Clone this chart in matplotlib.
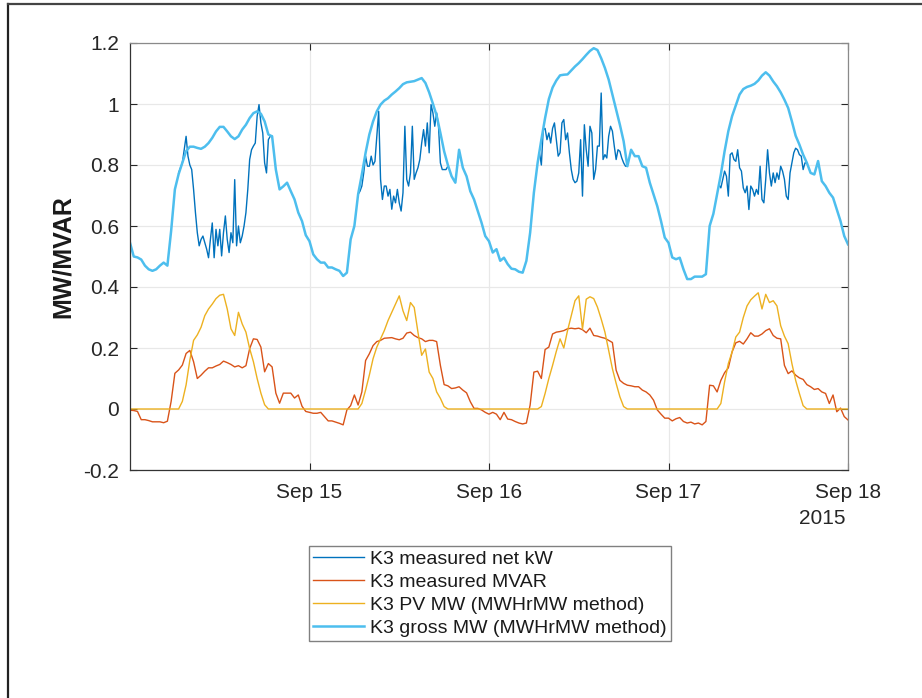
import numpy as np
import pandas as pd
import matplotlib
matplotlib.use("Agg")
import matplotlib.pyplot as plt
import matplotlib.dates as mdates
from matplotlib.lines import Line2D

plt.rcParams['font.family'] = ['Liberation Sans', 'DejaVu Sans']

# ---------------- data ----------------
series_start = "2015-09-14 00:00"
series_step = "30min"

gross_mw = [
    0.545, 0.50, 0.497, 0.49, 0.47, 0.458, 0.453, 0.458, 0.47, 0.48, 0.47, 0.584,
    0.72, 0.77, 0.807, 0.845, 0.86, 0.86, 0.856, 0.853, 0.86, 0.872, 0.889, 0.91,
    0.925, 0.925, 0.91, 0.894, 0.885, 0.894, 0.916, 0.932, 0.954, 0.97, 0.976, 0.968,
    0.943, 0.90, 0.894, 0.785, 0.72, 0.73, 0.742, 0.714, 0.687, 0.644, 0.616, 0.57,
    0.55, 0.507, 0.491, 0.48, 0.48, 0.464, 0.464, 0.458, 0.453, 0.436, 0.447, 0.556,
    0.60, 0.704, 0.769, 0.84, 0.90, 0.943, 0.976, 0.998, 1.011, 1.019, 1.031, 1.041,
    1.052, 1.065, 1.071, 1.073, 1.075, 1.08, 1.085, 1.069, 1.038, 1.001, 0.962, 0.905,
    0.845, 0.80, 0.763, 0.742, 0.85, 0.791, 0.763, 0.714, 0.687, 0.649, 0.611, 0.567,
    0.55, 0.513, 0.524, 0.486, 0.496, 0.475, 0.46, 0.458, 0.45, 0.447, 0.486, 0.578,
    0.709, 0.807, 0.883, 0.954, 1.016, 1.054, 1.077, 1.094, 1.096, 1.097, 1.11, 1.123,
    1.134, 1.147, 1.161, 1.174, 1.183, 1.177, 1.15, 1.118, 1.08, 1.031, 0.981, 0.932,
    0.878, 0.796, 0.85, 0.829, 0.829, 0.796, 0.791, 0.742, 0.704, 0.665, 0.616, 0.562,
    0.545, 0.497, 0.491, 0.496, 0.458, 0.426, 0.426, 0.434, 0.434, 0.434, 0.442, 0.60,
    0.64, 0.704, 0.769, 0.845, 0.911, 0.96, 0.995, 1.031, 1.049, 1.056, 1.06, 1.066,
    1.077, 1.093, 1.104, 1.093, 1.074, 1.058, 1.038, 1.014, 0.987, 0.943, 0.896, 0.867,
    0.834, 0.807, 0.774, 0.769, 0.813, 0.747, 0.731, 0.709, 0.693, 0.655, 0.616, 0.567,
    0.54,
]

pv_mw = [
    0, 0, 0, 0, 0, 0, 0, 0, 0, 0, 0, 0,
    0, 0, 0.025, 0.079, 0.16, 0.225, 0.243, 0.268, 0.306, 0.328, 0.344, 0.362,
    0.373, 0.376, 0.328, 0.263, 0.241, 0.317, 0.279, 0.252, 0.198, 0.155, 0.10, 0.052,
    0.014, 0, 0, 0, 0, 0, 0, 0, 0, 0, 0, 0,
    0, 0, 0, 0, 0, 0, 0, 0, 0, 0, 0, 0,
    0, 0, 0.018, 0.062, 0.111, 0.165, 0.203, 0.23, 0.257, 0.29, 0.317, 0.344,
    0.371, 0.322, 0.29, 0.349, 0.333, 0.252, 0.176, 0.197, 0.121, 0.10, 0.056, 0.035,
    0.008, 0, 0, 0, 0, 0, 0, 0, 0, 0, 0, 0,
    0, 0, 0, 0, 0, 0, 0, 0, 0, 0, 0, 0,
    0, 0, 0.008, 0.051, 0.10, 0.143, 0.189, 0.23, 0.20, 0.257, 0.306, 0.355,
    0.371, 0.262, 0.36, 0.368, 0.362, 0.334, 0.295, 0.252, 0.192, 0.132, 0.084, 0.04,
    0.008, 0, 0, 0, 0, 0, 0, 0, 0, 0, 0, 0,
    0, 0, 0, 0, 0, 0, 0, 0, 0, 0, 0, 0,
    0, 0, 0.018, 0.089, 0.149, 0.187, 0.236, 0.252, 0.30, 0.338, 0.358, 0.37,
    0.381, 0.328, 0.376, 0.349, 0.355, 0.338, 0.273, 0.239, 0.214, 0.149, 0.094, 0.051,
    0.011, 0, 0, 0, 0, 0, 0, 0, 0, 0, 0, 0,
    0,
]

mvar = [
    -0.004, -0.005, -0.008, -0.035, -0.035, -0.038, -0.042, -0.042, -0.042, -0.045, -0.04, 0.025,
    0.117, 0.128, 0.144, 0.182, 0.192, 0.155, 0.10, 0.111, 0.124, 0.135, 0.135, 0.141,
    0.146, 0.157, 0.152, 0.146, 0.138, 0.142, 0.135, 0.142, 0.198, 0.23, 0.228, 0.203,
    0.122, 0.149, 0.138, 0.052, 0.019, 0.052, 0.052, 0.052, 0.036, 0.046, 0.009, -0.008,
    -0.011, -0.014, -0.014, -0.011, -0.025, -0.039, -0.039, -0.043, -0.047, -0.052, -0.003, 0.011,
    0.046, 0.013, 0.056, 0.159, 0.181, 0.208, 0.221, 0.225, 0.232, 0.233, 0.234, 0.23,
    0.227, 0.232, 0.249, 0.252, 0.241, 0.234, 0.23, 0.221, 0.225, 0.225, 0.221, 0.143,
    0.08, 0.076, 0.067, 0.069, 0.073, 0.062, 0.053, 0.024, 0.002, 0.002, -0.003, -0.011,
    -0.017, -0.011, -0.017, -0.035, -0.011, -0.033, -0.035, -0.041, -0.046, -0.049, -0.046, 0.013,
    0.121, 0.124, 0.10, 0.195, 0.203, 0.246, 0.252, 0.254, 0.257, 0.263, 0.265, 0.263,
    0.265, 0.26, 0.25, 0.265, 0.241, 0.239, 0.235, 0.232, 0.225, 0.218, 0.127, 0.094,
    0.084, 0.078, 0.076, 0.073, 0.073, 0.062, 0.056, 0.046, 0.029, -0.003, -0.017, -0.03,
    -0.03, -0.039, -0.032, -0.028, -0.041, -0.046, -0.043, -0.049, -0.046, -0.052, -0.041, 0.078,
    0.076, 0.056, 0.094, 0.119, 0.135, 0.187, 0.217, 0.222, 0.213, 0.23, 0.25, 0.239,
    0.239, 0.246, 0.257, 0.263, 0.241, 0.232, 0.23, 0.143, 0.116, 0.125, 0.111, 0.102,
    0.097, 0.08, 0.073, 0.064, 0.067, 0.056, 0.051, 0.018, 0.046, -0.009, 0.003, -0.025,
    -0.036,
]

# measured net kW (daytime segments, 15-min samples)
net_step = "15min"
net_starts = ["2015-09-14 06:30", "2015-09-15 06:30", "2015-09-16 06:45", "2015-09-17 06:45"]
net_day1 = [
    0.774, 0.79, 0.807, 0.85, 0.894, 0.829, 0.80, 0.785, 0.72, 0.644, 0.578, 0.535,
    0.556, 0.567, 0.545, 0.524, 0.496, 0.556, 0.61, 0.496, 0.589, 0.535, 0.589, 0.502,
    0.578, 0.633, 0.556, 0.513, 0.578, 0.545, 0.752, 0.535, 0.60, 0.545, 0.567, 0.60,
    0.644, 0.72, 0.818, 0.85, 0.862, 0.872, 0.96, 0.998, 0.938, 0.905, 0.807, 0.774,
    0.883, 0.894, 0.894,
]
net_day2 = [
    0.704, 0.714, 0.731, 0.774, 0.829, 0.796, 0.796, 0.829, 0.80, 0.812, 0.894, 0.976,
    0.753, 0.687, 0.731, 0.731, 0.698, 0.72, 0.655, 0.698, 0.676, 0.72, 0.676, 0.649,
    0.709, 0.927, 0.753, 0.731, 0.774, 0.927, 0.753, 0.774, 0.791, 0.818, 0.872, 0.916,
    0.862, 0.938, 0.84, 0.998, 0.971, 0.927, 0.971, 0.927, 0.807, 0.785, 0.785, 0.785,
    0.796,
]
net_day3 = [
    0.84, 0.80, 0.916, 0.92, 0.883, 0.905, 0.872, 0.92, 0.938, 0.883, 0.829, 0.84,
    0.938, 0.949, 0.883, 0.905, 0.84, 0.785, 0.753, 0.742, 0.747, 0.774, 0.883, 0.698,
    0.932, 0.85, 0.796, 0.927, 0.905, 0.753, 0.785, 0.862, 0.862, 1.036, 0.818, 0.834,
    0.823, 0.894, 0.927, 0.911, 0.862, 0.818, 0.85, 0.845, 0.823, 0.807, 0.796, 0.796,
]
net_day4 = [
    0.735, 0.725, 0.753, 0.78, 0.763, 0.698, 0.834, 0.84, 0.818, 0.812, 0.85, 0.791,
    0.78, 0.725, 0.709, 0.731, 0.654, 0.731, 0.72, 0.698, 0.72, 0.704, 0.796, 0.687,
    0.676, 0.753, 0.85, 0.774, 0.731, 0.774, 0.742, 0.774, 0.753, 0.796, 0.78, 0.753,
    0.698, 0.687, 0.774, 0.807, 0.84, 0.855, 0.85, 0.834, 0.829, 0.785, 0.807, 0.807,
]

series_labels = [
    "K3 measured net kW",
    "K3 measured MVAR",
    "K3 PV MW (MWHrMW method)",
    "K3 gross MW (MWHrMW method)",
]
xtick_dates = ["2015-09-15", "2015-09-16", "2015-09-17", "2015-09-18"]
xtick_labels = ["Sep 15", "Sep 16", "Sep 17", "Sep 18"]
year_label = "2015"
ytick_values = [-0.2, 0, 0.2, 0.4, 0.6, 0.8, 1.0, 1.2]
ytick_labels = ["-0.2", "0", "0.2", "0.4", "0.6", "0.8", "1", "1.2"]
y_label = "MW/MVAR"

# ---------------- build ----------------
t = pd.date_range(series_start, periods=len(gross_mw), freq=series_step)

net_t, net_v = [], []
for s, vals in zip(net_starts, [net_day1, net_day2, net_day3, net_day4]):
    tt = pd.date_range(s, periods=len(vals), freq=net_step)
    net_t.extend(list(tt))
    net_v.extend(vals)
    net_t.append(tt[-1] + pd.Timedelta("1min"))
    net_v.append(np.nan)

colors = ["#0072BD", "#D95319", "#EDB120", "#4DBEEE"]

W, H = 922, 698
fig = plt.figure(figsize=(W / 100, H / 100), dpi=100)
fig.patch.set_facecolor("white")

ax = fig.add_axes([130 / W, 1 - 470 / H, (848 - 130) / W, (470 - 43) / H])

ax.plot(net_t, net_v, color=colors[0], lw=1.0, label=series_labels[0])
ax.plot(t, mvar, color=colors[1], lw=1.0, label=series_labels[1])
ax.plot(t, pv_mw, color=colors[2], lw=1.0, label=series_labels[2])
ax.plot(t, gross_mw, color=colors[3], lw=1.8, label=series_labels[3])

ax.set_xlim(pd.Timestamp("2015-09-14"), pd.Timestamp("2015-09-18"))
ax.set_ylim(-0.2, 1.2)
ax.set_xticks([pd.Timestamp(d) for d in xtick_dates])
ax.set_xticklabels(xtick_labels)
ax.set_yticks(ytick_values)
ax.set_yticklabels(ytick_labels)

ax.grid(True, color="#e8e8e8", lw=0.9)
ax.set_axisbelow(True)
ax.tick_params(direction="in", length=5, width=0.8, colors="#262626",
               labelsize=15, top=True, right=True)
ax.tick_params(axis="y", pad=8)
ax.tick_params(axis="x", pad=9)
for side in ["left", "bottom"]:
    ax.spines[side].set_color("#333333")
    ax.spines[side].set_linewidth(0.9)
for side in ["top", "right"]:
    ax.spines[side].set_color("#8a8a8a")
    ax.spines[side].set_linewidth(0.9)

ax.set_ylabel(y_label, fontsize=18, fontweight="bold", color="#1a1a1a")
ax.yaxis.set_label_coords(-0.077, 0.5)

fig.text(845 / W, 1 - 518 / H, year_label, ha="right", va="center",
         fontsize=15, color="#262626")

leg = fig.legend(loc="upper center", bbox_to_anchor=(490 / W, 1 - 546 / H),
                 fontsize=14, frameon=True, fancybox=False, framealpha=1,
                 edgecolor="#808080", handlelength=2.6, handletextpad=0.35,
                 labelspacing=0.28, borderpad=0.22, borderaxespad=0)
leg.get_frame().set_linewidth(1.0)
for txt in leg.get_texts():
    txt.set_color("#1a1a1a")

# outer frame (top and left edges of the original figure border)
fig.add_artist(Line2D([8 / W, 8 / W], [0, 1 - 4 / H], transform=fig.transFigure,
                      color="#222222", lw=1.6))
fig.add_artist(Line2D([8 / W, 1], [1 - 4 / H, 1 - 4 / H], transform=fig.transFigure,
                      color="#444444", lw=1.6))

fig.savefig("out.png", dpi=100)
